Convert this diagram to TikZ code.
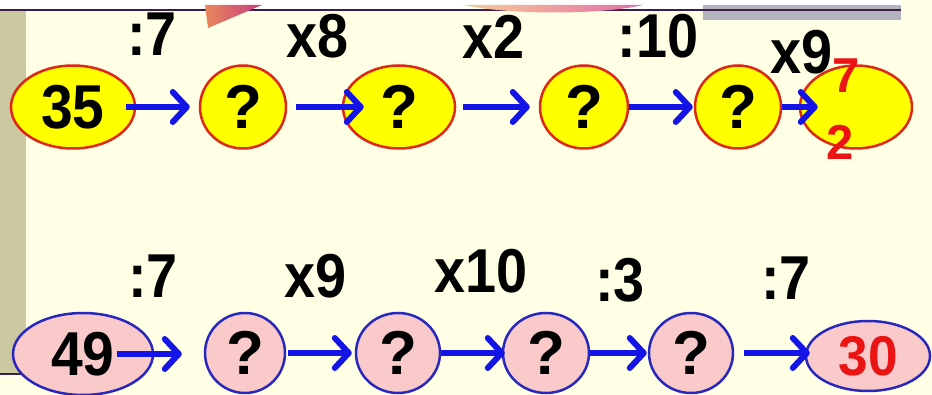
\documentclass[tikz,border=0pt]{standalone}
\usepackage{fontspec}
\setmainfont{Liberation Sans}
\usetikzlibrary{shapes.geometric,arrows.meta}
\definecolor{cream}{RGB}{255,255,230}
\definecolor{band}{RGB}{204,200,160}
\definecolor{yfill}{RGB}{255,255,0}
\definecolor{redline}{RGB}{220,40,20}
\definecolor{pfill}{RGB}{250,202,202}
\definecolor{blueline}{RGB}{40,40,190}
\definecolor{arrblue}{RGB}{20,20,230}
\definecolor{redtext}{RGB}{235,20,20}
\definecolor{darkline}{RGB}{60,30,70}
\definecolor{greybar}{RGB}{180,180,192}
\newcommand\opfont{\fontsize{62}{62}\selectfont\bfseries}
\tikzset{
  yel/.style={ellipse, draw=redline, fill=yfill, line width=2.5pt, inner sep=0pt, minimum height=83pt, font=\opfont},
  pnk/.style={ellipse, draw=blueline, fill=pfill, line width=2.5pt, inner sep=0pt, minimum height=80pt, font=\opfont},
  oplabel/.style={anchor=base, inner sep=0pt, font=\opfont},
  arr/.style={draw=arrblue, line width=6pt, -{Straight Barb[length=14pt,width=30pt,round]}},
}
\begin{document}
\begin{tikzpicture}[x=1pt,y=-1pt]
\useasboundingbox (0,0) rectangle (932,395);
% background
\fill[cream] (0,0) rectangle (932,395);
\fill[white] (0,0) rectangle (901,9);
\fill[greybar] (703,5) rectangle (901,20);
\fill[band] (0,11) rectangle (26,373);
\draw[darkline, line width=1.5pt] (0,10) -- (901,10);
\draw[darkline, line width=2pt] (0,374) -- (40,374);
\shade[left color={rgb,255:red,232;green,135;blue,90}, right color={rgb,255:red,200;green,60;blue,130}] (205,5) -- (262,5) -- (208,28) -- cycle;
\shade[left color={rgb,255:red,246;green,205;blue,150}, right color={rgb,255:red,228;green,110;blue,170}] (463,5) .. controls (510,15) and (600,15) .. (643,5) -- cycle;

% top row
\node[yel, minimum width=124pt] (a1) at (73,107) {\scalebox{0.92}[1]{35}};
\node[yel, minimum width=86pt] (a2) at (243,107) {?};
\node[yel, minimum width=112pt] (a3) at (399,107) {?};
\node[yel, minimum width=88pt] (a4) at (584,107) {?};
\node[yel, minimum width=86pt] (a5) at (738,107) {?};
\node[yel, minimum width=112pt] (a6) at (856,107) {};
\node[anchor=base, inner sep=0pt, text=redtext, font=\fontsize{49}{49}\selectfont\bfseries] (s7) at (846,93) {7};
\node[anchor=base, inner sep=0pt, text=redtext, font=\fontsize{49}{49}\selectfont\bfseries] (s2) at (840,160) {2};

\draw[arr, shorten <=-10pt, shorten >=9pt] (a1.east) -- (a2.west);
\draw[arr, shorten <=9pt, shorten >=-22pt] (a2.east) -- (a3.west);
\draw[arr, shorten <=7pt, shorten >=9pt] (a3.east) -- (a4.west);
\draw[arr, shorten <=0pt, shorten >=1pt] (a4.east) -- (a5.west);
\draw[arr, shorten <=0pt, shorten >=-19pt] (a5.east) -- (a6.west);

\node[oplabel] (ta) at (152,56) {\scalebox{0.9}[1]{:7}};
\node[oplabel] (tb) at (318,58) {\scalebox{0.9}[1]{x8}};
\node[oplabel] (tc) at (494,59) {\scalebox{0.9}[1]{x2}};
\node[oplabel] (td) at (658,58) {\scalebox{0.9}[1]{:10}};
\node[oplabel] (te) at (802,74) {\scalebox{0.9}[1]{x9}};

% bottom row
\node[pnk, minimum width=140pt, minimum height=82pt] (b1) at (83,354) {\scalebox{0.92}[1]{49}};
\node[pnk, minimum width=80pt] (b2) at (245,353) {?};
\node[pnk, minimum width=84pt] (b3) at (398,353) {?};
\node[pnk, minimum width=86pt] (b4) at (546,353) {?};
\node[pnk, minimum width=84pt] (b5) at (691,353) {?};
\node[pnk, minimum width=124pt, minimum height=70pt, text=redtext, font=\fontsize{56}{56}\selectfont\bfseries] (b6) at (868,356) {\scalebox{0.95}[1]{30}};

\draw[arr, shorten <=-37pt, shorten >=22pt] (b1.east) -- (b1.east -| b2.west);
\draw[arr, shorten <=2pt, shorten >=3pt] (b2.east) -- (b3.west);
\draw[arr, shorten <=0pt, shorten >=-3pt] (b3.east) -- (b4.west);
\draw[arr, shorten <=0pt, shorten >=1pt] (b4.east) -- (b5.west);
\draw[arr, shorten <=10pt, shorten >=-5pt] (b5.east) -- (b5.east -| b6.west);

\node[oplabel] (ua) at (153,298) {\scalebox{0.9}[1]{:7}};
\node[oplabel] (ub) at (316,298) {\scalebox{0.9}[1]{x9}};
\node[oplabel] (uc) at (481,293) {\scalebox{0.9}[1]{x10}};
\node[oplabel] (ud) at (620,302) {\scalebox{0.9}[1]{:3}};
\node[oplabel] (ue) at (786,300) {\scalebox{0.9}[1]{:7}};
\end{tikzpicture}
\end{document}
